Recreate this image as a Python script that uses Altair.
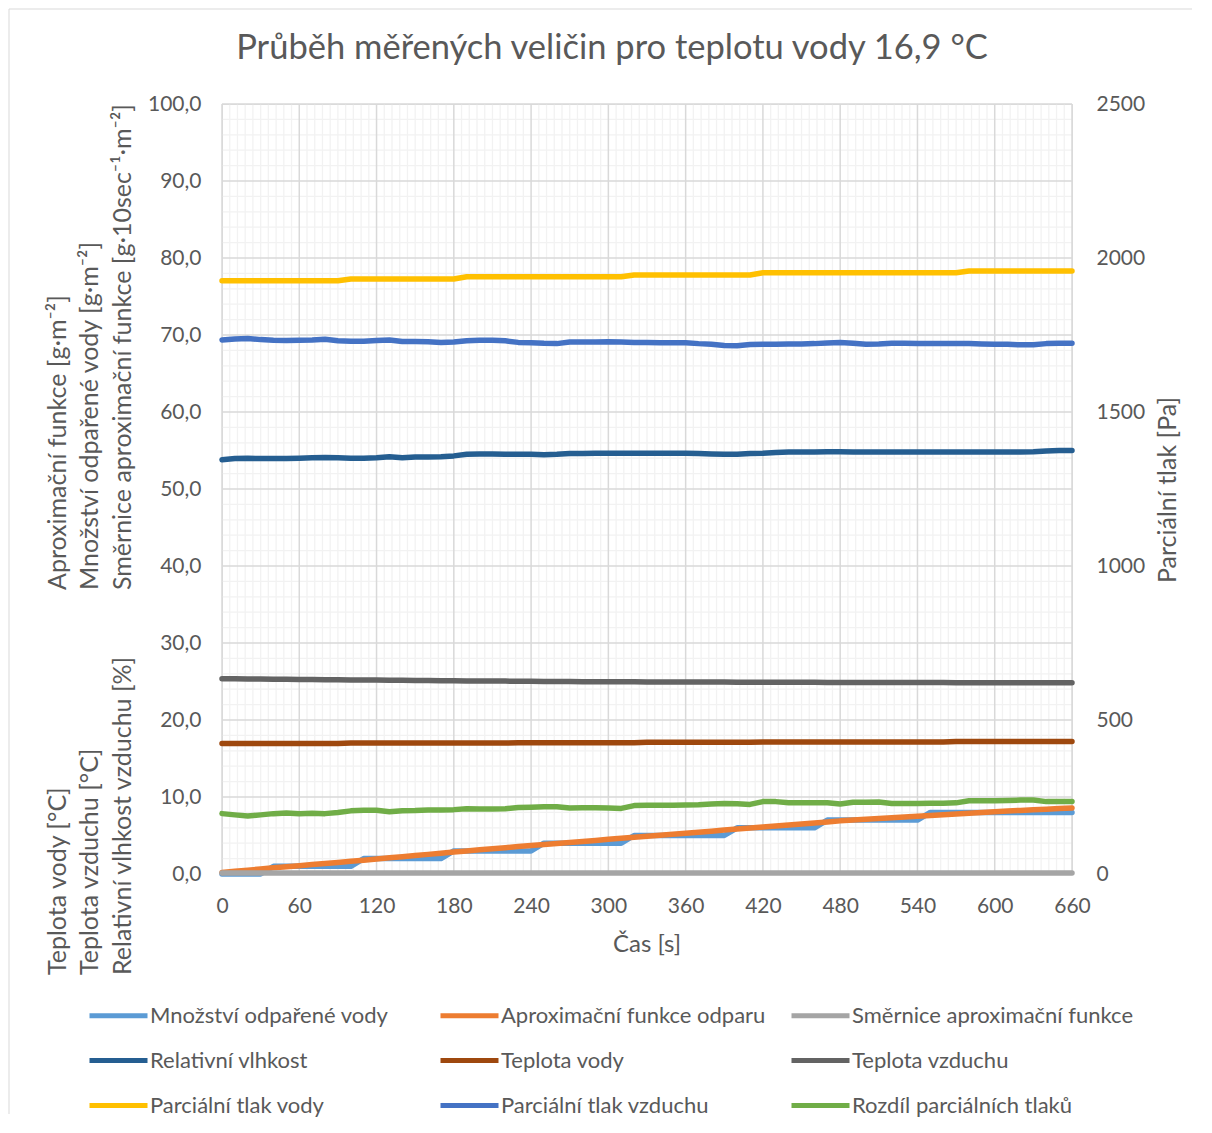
import altair as alt
import pandas as pd

# ---------------- data ----------------
time_s = [0, 10, 20, 30, 40, 50, 60, 70, 80, 90, 100, 110, 120, 130, 140, 150, 160, 170, 180, 190,
          200, 210, 220, 230, 240, 250, 260, 270, 280, 290, 300, 310, 320, 330, 340, 350, 360, 370,
          380, 390, 400, 410, 420, 430, 440, 450, 460, 470, 480, 490, 500, 510, 520, 530, 540, 550,
          560, 570, 580, 590, 600, 610, 620, 630, 640, 650, 660]

mnozstvi = [0, 0, 0, 0,
            1, 1, 1, 1, 1, 1, 1,
            2, 2, 2, 2, 2, 2, 2,
            3, 3, 3, 3, 3, 3, 3,
            4, 4, 4, 4, 4, 4, 4,
            5, 5, 5, 5, 5, 5, 5, 5,
            6, 6, 6, 6, 6, 6, 6,
            7, 7, 7, 7, 7, 7, 7, 7,
            8, 8, 8, 8, 8, 8, 8, 8, 8, 8, 8, 8]

aproximace = [0.2, 0.35, 0.5, 0.65, 0.8, 0.95, 1.08, 1.22, 1.36, 1.5, 1.65, 1.8, 1.95, 2.1, 2.25,
              2.4, 2.55, 2.7, 2.87, 3.0, 3.14, 3.28, 3.42, 3.56, 3.7, 3.83, 3.96, 4.1, 4.23, 4.36,
              4.5, 4.63, 4.76, 4.9, 5.03, 5.16, 5.3, 5.43, 5.56, 5.7, 5.83, 5.96, 6.1, 6.23, 6.36,
              6.5, 6.63, 6.76, 6.9, 7.0, 7.1, 7.2, 7.3, 7.4, 7.5, 7.6, 7.7, 7.8, 7.9, 8.0, 8.1,
              8.18, 8.26, 8.34, 8.42, 8.5, 8.58]

smernice = [0.13] * 67

rel_vlhkost = [53.8, 53.95, 54.0, 53.95, 53.95, 53.95, 54.0, 54.05, 54.1, 54.05, 54.0, 54.0, 54.05,
               54.2, 54.05, 54.15, 54.15, 54.2, 54.3, 54.5, 54.55, 54.55, 54.5, 54.5, 54.5, 54.45,
               54.5, 54.6, 54.6, 54.65, 54.65, 54.65, 54.65, 54.65, 54.65, 54.65, 54.65, 54.6, 54.55,
               54.5, 54.5, 54.6, 54.65, 54.75, 54.8, 54.8, 54.8, 54.85, 54.85, 54.8, 54.8, 54.8,
               54.8, 54.8, 54.8, 54.8, 54.8, 54.8, 54.8, 54.8, 54.8, 54.8, 54.8, 54.85, 54.95, 55.0,
               55.0]

teplota_vody = [16.95] * 10 + [17.0] * 13 + [17.05] * 10 + [17.1] * 9 + [17.15] * 15 + [17.2] * 10

teplota_vzduchu = [25.35, 25.35, 25.33, 25.32, 25.3, 25.28, 25.27, 25.25, 25.24, 25.22, 25.2, 25.2,
                   25.18, 25.17, 25.16, 25.14, 25.12, 25.1, 25.1, 25.08, 25.07, 25.06, 25.05, 25.04,
                   25.02, 25.01, 25.0, 24.99, 24.98, 24.98, 24.97, 24.96, 24.96, 24.95, 24.95, 24.94,
                   24.94, 24.93, 24.92, 24.92, 24.91, 24.9, 24.9, 24.9, 24.9, 24.89, 24.89, 24.88,
                   24.88, 24.88, 24.87, 24.87, 24.87, 24.86, 24.86, 24.86, 24.86, 24.85, 24.85, 24.85,
                   24.85, 24.85, 24.85, 24.85, 24.85, 24.85, 24.85]

tlak_vody = [1926] * 10 + [1932] * 9 + [1939] * 13 + [1945] * 10 + [1952] * 16 + [1958] * 9

tlak_vzduchu = [1734, 1737, 1739, 1735, 1733, 1732, 1733, 1734, 1736, 1731, 1730, 1730, 1732, 1734,
                1729, 1729, 1728, 1726, 1727, 1731, 1733, 1733, 1731, 1726, 1725, 1723, 1722, 1727,
                1727, 1727, 1728, 1727, 1726, 1726, 1725, 1725, 1725, 1722, 1720, 1716, 1715, 1719,
                1720, 1720, 1721, 1721, 1722, 1724, 1726, 1723, 1720, 1721, 1723, 1723, 1722, 1722,
                1722, 1722, 1722, 1721, 1720, 1720, 1718, 1718, 1722, 1723, 1723]

rozdil = [196, 192, 188, 192, 196, 198, 196, 197, 196, 200, 205, 207, 207, 202, 205, 206, 208, 208,
          209, 212, 211, 211, 212, 216, 217, 218, 218, 214, 215, 215, 214, 213, 222, 223, 223, 223,
          224, 225, 227, 229, 228, 226, 235, 235, 231, 231, 231, 231, 227, 233, 233, 234, 229, 229,
          229, 230, 230, 231, 238, 238, 238, 239, 240, 240, 235, 235, 235]

series_names = ["Množství odpařené vody", "Aproximační funkce odparu", "Směrnice aproximační funkce",
                "Relativní vlhkost", "Teplota vody", "Teplota vzduchu",
                "Parciální tlak vody", "Parciální tlak vzduchu", "Rozdíl parciálních tlaků"]
series_values = [mnozstvi, aproximace, smernice, rel_vlhkost, teplota_vody, teplota_vzduchu,
                 tlak_vody, tlak_vzduchu, rozdil]
series_colors = ["#5B9BD5", "#ED7D31", "#A5A5A5", "#255E91", "#9E480E", "#636363",
                 "#FFC000", "#4472C4", "#70AD47"]

x_major = [0, 60, 120, 180, 240, 300, 360, 420, 480, 540, 600, 660]
y_left_major = [0, 10, 20, 30, 40, 50, 60, 70, 80, 90, 100]
y_right_major = [0, 500, 1000, 1500, 2000, 2500]
x_minor = [t for t in range(6, 660, 6) if t % 60 != 0]
y_minor = [v for v in range(2, 100, 2) if v % 10 != 0]

title_text = "Průběh měřených veličin pro teplotu vody 16,9 °C"
left_title_top = ["Aproximační funkce [g·m⁻²]", "Množství odpařené vody [g·m⁻²]",
                  "Směrnice aproximační funkce [g·10sec⁻¹·m⁻²]"]
left_title_bottom = ["Teplota vody [°C]", "Teplota vzduchu [°C]", "Relativní vlhkost vzduchu [%]"]
right_title = "Parciální tlak [Pa]"
x_title = "Čas [s]"

# ---------------- build ----------------
rows = []
for name, vals in zip(series_names, series_values):
    for t, v in zip(time_s, vals):
        rows.append({"t": t, "series": name, "v": v})
df = pd.DataFrame(rows)

FONT = "Lato"
TXT = "#595959"
W, H = 850, 770

x_scale = alt.Scale(domain=[0, 660], nice=False, zero=False)
yl_scale = alt.Scale(domain=[0, 100], nice=False)
yr_scale = alt.Scale(domain=[0, 2500], nice=False)

color = alt.Color(
    "series:N",
    scale=alt.Scale(domain=series_names, range=series_colors),
    legend=alt.Legend(
        orient="none", legendX=-135, legendY=880, columns=3, direction="horizontal", title=None,
        symbolType="stroke", symbolSize=3364, symbolStrokeWidth=5,
        labelFont=FONT, labelFontSize=22, labelColor=TXT, labelOffset=0, labelLimit=500,
        columnPadding=-2, rowPadding=2, gridAlign="all", padding=0,
    ),
)

x_axis = alt.Axis(values=x_major, grid=False, ticks=False, domain=False, title=None,
                  labelFont=FONT, labelFontSize=21, labelColor=TXT, labelPadding=21,
                  labelFlush=False)
yl_axis = alt.Axis(values=y_left_major, grid=False, ticks=False, domain=False, title=None,
                   labelFont=FONT, labelFontSize=21, labelColor=TXT, labelPadding=21,
                   labelExpr="replace(format(datum.value, '.1f'), '.', ',')")
yr_axis = alt.Axis(values=y_right_major, grid=False, ticks=False, domain=False, title=None,
                   orient="right", labelFont=FONT, labelFontSize=21, labelColor=TXT,
                   labelPadding=24, format="d")

one = pd.DataFrame({"a": [0]})

# grid lines (minor lighter, major darker), drawn through the chart's own scales
vminor = alt.Chart(pd.DataFrame({"t": x_minor})).mark_rule(color="#F2F2F2", strokeWidth=1.3).encode(
    x=alt.X("t:Q", scale=x_scale, axis=x_axis), y=alt.value(0), y2=alt.value(H))
hminor = alt.Chart(pd.DataFrame({"v": y_minor})).mark_rule(color="#F2F2F2", strokeWidth=1.3).encode(
    y=alt.Y("v:Q", scale=yl_scale, axis=yl_axis), x=alt.value(0), x2=alt.value(W))
vmajor = alt.Chart(pd.DataFrame({"t": x_major})).mark_rule(color="#D9D9D9", strokeWidth=1.5).encode(
    x=alt.X("t:Q", scale=x_scale, axis=x_axis), y=alt.value(0), y2=alt.value(H))
hmajor = alt.Chart(pd.DataFrame({"v": y_left_major})).mark_rule(color="#D9D9D9", strokeWidth=1.5).encode(
    y=alt.Y("v:Q", scale=yl_scale, axis=yl_axis), x=alt.value(0), x2=alt.value(W))

base = alt.Chart(df)


def series_layer(name, y_scale, axis):
    return base.transform_filter(alt.datum.series == name).mark_line(
        strokeWidth=5.5, strokeJoin="round", strokeCap="round"
    ).encode(
        x=alt.X("t:Q", scale=x_scale, axis=x_axis),
        y=alt.Y("v:Q", scale=y_scale, axis=axis),
        color=color,
    )


left_layers = [series_layer(n, yl_scale, yl_axis) for n in series_names[:6]]
right_layers = [series_layer(n, yr_scale, yr_axis) for n in series_names[6:]]


def txt(text, x, y, size, angle=0, align="center", baseline="middle"):
    kw = dict(text=text, font=FONT, fontSize=size, color=TXT, align=align, baseline=baseline)
    if angle:
        kw["angle"] = angle
    return alt.Chart(one).mark_text(**kw).encode(x=alt.value(x), y=alt.value(y))


texts = [
    txt(title_text, 390, -55, 34.5),
    txt(x_title, 425, 841, 24),
    txt(right_title, 946, 386, 25, angle=270),
]
for i, (a, b) in enumerate(zip(left_title_top, left_title_bottom)):
    xx = [-164, -132, -99][i]
    texts.append(txt(a, xx, 486, 25, angle=270, align="left"))
    texts.append(txt(b, xx, 871, 25, angle=270, align="left"))

border = [
    alt.Chart(one).mark_rule(color="#D9D9D9", strokeWidth=1).encode(
        x=alt.value(-213), x2=alt.value(984), y=alt.value(-95)),
    alt.Chart(one).mark_rule(color="#D9D9D9", strokeWidth=1).encode(
        x=alt.value(-213), y=alt.value(-95), y2=alt.value(1010)),
]

left = alt.layer(vminor, hminor, vmajor, hmajor, *left_layers, *texts, *border)
right = alt.layer(*right_layers)

chart = alt.layer(left, right).resolve_scale(y="independent").properties(
    width=W, height=H,
    autosize=alt.AutoSizeParams(type="none"),
    padding={"left": 214, "top": 96, "right": 120, "bottom": 249},
).configure_view(stroke=None).configure(background="white")

chart.save("out.html", embed_options={"renderer": "svg", "actions": False})
